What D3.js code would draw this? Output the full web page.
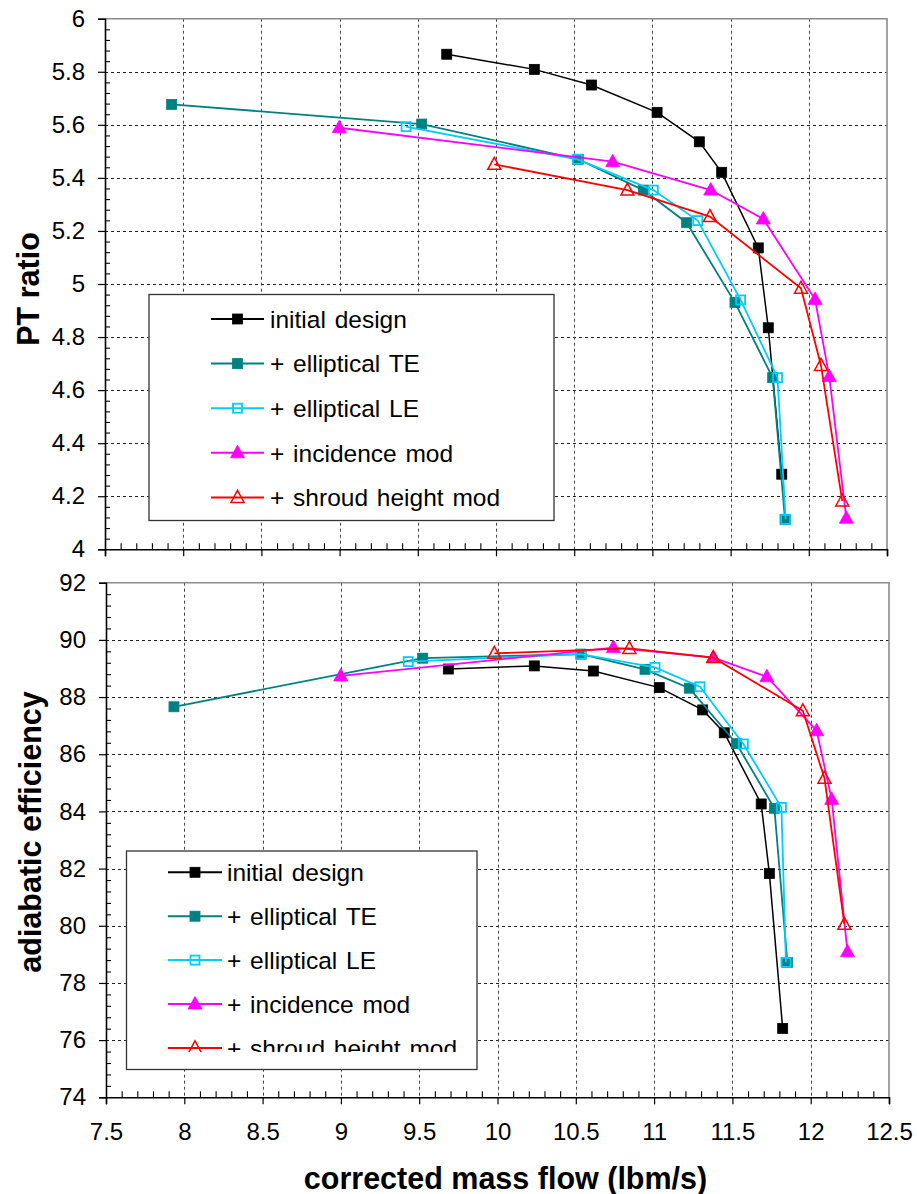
<!DOCTYPE html>
<html>
<head>
<meta charset="utf-8">
<script src="https://cdn.jsdelivr.net/npm/d3@7"></script>
<style>
  html, body { margin: 0; padding: 0; background: #fff; }
  svg { display: block; font-family: "Liberation Sans", Arial, sans-serif; }
</style>
</head>
<body>
<svg id="chart" width="917" height="1194"></svg>
<script>
// ---------- DATA ----------
const seriesNames = ["initial design", "+ elliptical TE", "+ elliptical LE", "+ incidence mod", "+ shroud height mod"];
const seriesColors = ["#000000", "#008080", "#00CCFF", "#FF00FF", "#FF0000"];
const seriesMarkers = ["squareFilled", "squareFilled", "squareOpen", "triFilled", "triOpen"];

// PT ratio panel: [mass flow, PT ratio]
const ptInitial = [[9.685, 5.866], [10.245, 5.809], [10.61, 5.750], [11.03, 5.647], [11.30, 5.536], [11.443, 5.421], [11.677, 5.136], [11.741, 4.835], [11.827, 4.283]];
const ptEllTE   = [[7.926, 5.677], [9.525, 5.603], [10.526, 5.470], [10.942, 5.354], [11.219, 5.231], [11.528, 4.930], [11.769, 4.647], [11.848, 4.113]];
const ptEllLE   = [[9.425, 5.593], [10.52, 5.470], [11.006, 5.354], [11.29, 5.239], [11.564, 4.940], [11.80, 4.647], [11.852, 4.113]];
const ptIncid   = [[8.998, 5.589], [10.746, 5.461], [11.373, 5.354], [11.709, 5.245], [12.04, 4.942], [12.131, 4.651], [12.24, 4.117]];
const ptShroud  = [[9.989, 5.451], [10.84, 5.354], [11.368, 5.254], [11.95, 4.984], [12.078, 4.693], [12.214, 4.182]];

// Efficiency panel: [mass flow, adiabatic efficiency]
const effInitial = [[9.686, 88.98], [10.235, 89.09], [10.612, 88.91], [11.033, 88.33], [11.31, 87.55], [11.448, 86.75], [11.684, 84.26], [11.736, 81.83], [11.821, 76.41]];
const effEllTE   = [[7.934, 87.66], [9.522, 89.36], [10.534, 89.50], [10.942, 88.97], [11.225, 88.31], [11.526, 86.37], [11.768, 84.11], [11.851, 78.72]];
const effEllLE   = [[9.43, 89.24], [10.53, 89.50], [11.006, 89.04], [11.293, 88.36], [11.57, 86.36], [11.813, 84.14], [11.842, 78.72]];
const effIncid   = [[8.999, 88.74], [10.74, 89.73], [11.378, 89.38], [11.72, 88.71], [12.038, 86.82], [12.134, 84.42], [12.235, 79.09]];
const effShroud  = [[9.98, 89.53], [10.842, 89.70], [11.378, 89.38], [11.95, 87.52], [12.088, 85.16], [12.215, 80.05]];

const xTicks = [7.5, 8, 8.5, 9, 9.5, 10, 10.5, 11, 11.5, 12, 12.5];
const ptTicks = [4, 4.2, 4.4, 4.6, 4.8, 5, 5.2, 5.4, 5.6, 5.8, 6];
const effTicks = [74, 76, 78, 80, 82, 84, 86, 88, 90, 92];

const xTitle = "corrected mass flow (lbm/s)";
const ptTitle = "PT ratio";
const effTitle = "adiabatic efficiency";

// ---------- DRAW ----------
const svg = d3.select("#chart");

function drawMarker(g, type, color, x, y) {
  if (type === "squareFilled") {
    g.append("rect").attr("x", x - 5).attr("y", y - 5).attr("width", 10).attr("height", 10)
      .attr("fill", color).attr("stroke", color).attr("stroke-width", 0.8);
  } else if (type === "squareOpen") {
    g.append("rect").attr("x", x - 4.5).attr("y", y - 4.5).attr("width", 9).attr("height", 9)
      .attr("fill", "none").attr("stroke", color).attr("stroke-width", 1.8);
  } else if (type === "triFilled") {
    const p = [[x, y - 7.5], [x + 7, y + 5], [x - 7, y + 5]];
    g.append("path").attr("d", "M" + p.join("L") + "Z").attr("fill", color).attr("stroke", color).attr("stroke-width", 0.8);
  } else if (type === "triOpen") {
    const p = [[x, y - 7], [x + 6.5, y + 5], [x - 6.5, y + 5]];
    g.append("path").attr("d", "M" + p.join("L") + "Z").attr("fill", "none").attr("stroke", color).attr("stroke-width", 1.5);
  }
}

function panel(cfg) {
  const x = d3.scaleLinear().domain([7.5, 12.5]).range([cfg.left, cfg.right]);
  const y = d3.scaleLinear().domain(cfg.yDomain).range([cfg.bottom, cfg.top]);
  const g = svg.append("g");

  // gridlines
  g.selectAll(".hg").data(cfg.yTicks.filter(v => v !== cfg.yDomain[0] && v !== cfg.yDomain[1]))
    .enter().append("line")
    .attr("x1", cfg.left).attr("x2", cfg.right)
    .attr("y1", d => Math.round(y(d)) + 0.5).attr("y2", d => Math.round(y(d)) + 0.5)
    .attr("stroke", "#222").attr("stroke-width", 1).attr("stroke-dasharray", "3,3");
  g.selectAll(".vg").data(xTicks.filter(v => v !== 7.5 && v !== 12.5))
    .enter().append("line")
    .attr("x1", d => Math.round(x(d)) + 0.5).attr("x2", d => Math.round(x(d)) + 0.5)
    .attr("y1", cfg.top).attr("y2", cfg.bottom)
    .attr("stroke", "#444").attr("stroke-width", 1).attr("stroke-dasharray", "3,3");

  // top & right frame (grey)
  g.append("path")
    .attr("d", `M${cfg.left},${cfg.top}H${cfg.right}V${cfg.bottom}`)
    .attr("fill", "none").attr("stroke", "#8c8c8c").attr("stroke-width", 1.6);

  // x axis
  const xMinor = d3.range(75, 126).map(v => v / 10).filter(v => Math.abs(v * 2 - Math.round(v * 2)) > 1e-6);
  const xAxisMajor = d3.axisBottom(x).tickValues(xTicks).tickSize(7).tickFormat(cfg.showXLabels ? d => d3.format("")(d) : "");
  const gx = g.append("g").attr("transform", `translate(0,${cfg.bottom})`).call(xAxisMajor);
  gx.select(".domain").attr("stroke", "#000").attr("stroke-width", 1.6);
  gx.selectAll(".tick line").attr("stroke", "#000").attr("stroke-width", 1.2);
  gx.selectAll(".tick text").attr("font-size", 24).attr("fill", "#000").attr("dy", "1.35em")
    .attr("font-family", "'Liberation Sans', Arial, sans-serif");
  const gxm = g.append("g").attr("transform", `translate(0,${cfg.bottom})`)
    .call(d3.axisTop(x).tickValues(xMinor).tickSize(6).tickFormat(""));
  gxm.select(".domain").remove();
  gxm.selectAll(".tick line").attr("stroke", "#000").attr("stroke-width", 1.1);

  // y axis
  const yMinor = [];
  for (let i = 0; i < cfg.yTicks.length - 1; i++) {
    const a = cfg.yTicks[i], b = cfg.yTicks[i + 1];
    for (let k = 1; k < 5; k++) yMinor.push(a + (b - a) * k / 5);
  }
  const gy = g.append("g").attr("transform", `translate(${cfg.left},0)`)
    .call(d3.axisLeft(y).tickValues(cfg.yTicks).tickSize(7).tickPadding(13).tickFormat(d3.format("")));
  gy.select(".domain").attr("stroke", "#000").attr("stroke-width", 1.6);
  gy.selectAll(".tick line").attr("stroke", "#000").attr("stroke-width", 1.2);
  gy.selectAll(".tick text").attr("font-size", 24).attr("fill", "#000")
    .attr("font-family", "'Liberation Sans', Arial, sans-serif");
  const gym = g.append("g").attr("transform", `translate(${cfg.left},0)`)
    .call(d3.axisRight(y).tickValues(yMinor).tickSize(5).tickFormat(""));
  gym.select(".domain").remove();
  gym.selectAll(".tick line").attr("stroke", "#000").attr("stroke-width", 1.1);

  // y title
  svg.append("text")
    .attr("transform", `translate(${cfg.yTitleX},${cfg.yTitleY}) rotate(-90)`)
    .attr("text-anchor", "middle").attr("dominant-baseline", "central")
    .attr("font-size", 30.5).attr("font-weight", "bold").attr("fill", "#000")
    .text(cfg.yTitle);

  // series
  const line = d3.line().x(d => x(d[0])).y(d => y(d[1]));
  cfg.series.forEach((data, i) => {
    g.append("path").datum(data).attr("d", line)
      .attr("fill", "none").attr("stroke", seriesColors[i]).attr("stroke-width", i === 0 ? 1.5 : 1.8);
    const mg = g.append("g");
    data.forEach(d => drawMarker(mg, seriesMarkers[i], seriesColors[i], x(d[0]), y(d[1])));
  });

  // legend
  const L = cfg.legend;
  const lg = svg.append("g");
  lg.append("rect").attr("x", L.x0 + 0.5).attr("y", L.y0 + 0.5).attr("width", L.x1 - L.x0).attr("height", L.y1 - L.y0)
    .attr("fill", "#fff").attr("stroke", "#333").attr("stroke-width", 1.3);
  const clipId = "clip" + cfg.id;
  svg.append("clipPath").attr("id", clipId).append("rect")
    .attr("x", L.x0).attr("y", L.y0).attr("width", L.x1 - L.x0).attr("height", L.clipY - L.y0);
  const lc = lg.append("g").attr("clip-path", `url(#${clipId})`);
  seriesNames.forEach((name, i) => {
    const yy = L.rowY0 + i * L.rowStep;
    lc.append("line").attr("x1", L.lineX0).attr("x2", L.lineX1).attr("y1", yy).attr("y2", yy)
      .attr("stroke", seriesColors[i]).attr("stroke-width", 2);
    drawMarker(lc, seriesMarkers[i], seriesColors[i], (L.lineX0 + L.lineX1) / 2, yy);
    lc.append("text").attr("x", L.textX).attr("y", yy).attr("dy", "0.36em")
      .attr("font-size", 24.5).attr("fill", "#000").attr("word-spacing", "2px").text(name);
  });
}

panel({
  id: "pt", left: 105, right: 887, top: 18.7, bottom: 549.3,
  yDomain: [4, 6], yTicks: ptTicks, showXLabels: false,
  yTitle: ptTitle, yTitleX: 28, yTitleY: 289,
  series: [ptInitial, ptEllTE, ptEllLE, ptIncid, ptShroud],
  legend: { x0: 148.5, x1: 553.5, y0: 294, y1: 520, clipY: 520, rowY0: 319, rowStep: 44.6,
            lineX0: 211, lineX1: 264, textX: 270 }
});

panel({
  id: "eff", left: 106, right: 889, top: 582.7, bottom: 1097.3,
  yDomain: [74, 92], yTicks: effTicks, showXLabels: true,
  yTitle: effTitle, yTitleX: 30, yTitleY: 832,
  series: [effInitial, effEllTE, effEllLE, effIncid, effShroud],
  legend: { x0: 126, x1: 476.5, y0: 850.5, y1: 1069, clipY: 1052, rowY0: 872.3, rowStep: 43.9,
            lineX0: 168, lineX1: 222, textX: 227 }
});

svg.append("text").attr("x", 505.5).attr("y", 1189).attr("text-anchor", "middle")
  .attr("font-size", 30.5).attr("font-weight", "bold").attr("fill", "#000").text(xTitle);
</script>
</body>
</html>
